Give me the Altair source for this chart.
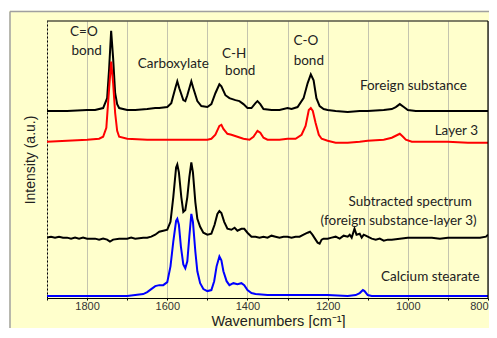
import altair as alt
import pandas as pd

# ---- data (wavenumber cm^-1, intensity a.u.) ----
fs_w = [1900,1850,1800,1780,1760,1750,1745,1740,1735,1730,1725,1720,1700,1680,1650,1630,1620,1600,1590,1580,1575,1570,1560,1555,1550,1540,1535,1525,1515,1500,1490,1480,1470,1465,1455,1445,1430,1420,1410,1400,1390,1380,1375,1368,1360,1340,1320,1300,1290,1275,1260,1250,1242,1235,1228,1220,1210,1200,1180,1150,1120,1100,1060,1040,1030,1020,1010,1000,980,900,850,800]
fs_i = [189,189,190,190,192,202,232,270,242,207,196,192,190,190,191,192,192,193,197,212,219,212,200,199,205,219,212,199,194,193,196,207,216,214,205,202,200,199,196,192,192,197,199,196,191,190,190,192,191,193,202,217,226,220,202,194,191,190,189,188,189,189,190,191,193,196,193,190,189,189,189,189]

l3_w = [1900,1850,1800,1770,1760,1752,1745,1740,1735,1730,1725,1720,1700,1650,1600,1550,1500,1490,1480,1470,1465,1460,1450,1440,1425,1410,1395,1385,1375,1368,1360,1350,1320,1300,1280,1265,1255,1247,1242,1237,1230,1222,1215,1200,1180,1150,1120,1100,1060,1040,1030,1020,1012,1005,990,950,900,850,800]
l3_i = [158,159,160,161,163,172,212,239,217,187,169,163,161,160,160,160,160,161,165,174,175,171,166,165,163,161,160,163,169,167,162,160,160,161,161,165,174,190,192,189,177,165,161,159,157,157,158,159,160,162,164,166,163,160,158,158,158,157,157]

sub_w = [1900,1890,1880,1870,1860,1850,1840,1830,1820,1810,1800,1790,1780,1770,1760,1750,1743,1735,1720,1700,1690,1680,1660,1650,1640,1630,1620,1610,1600,1592,1585,1578,1575,1571,1565,1560,1555,1550,1545,1540,1536,1530,1525,1518,1510,1500,1490,1482,1475,1470,1465,1458,1450,1440,1432,1425,1415,1408,1400,1390,1380,1370,1360,1350,1340,1330,1320,1310,1300,1290,1280,1270,1260,1250,1244,1238,1230,1225,1220,1215,1210,1200,1190,1180,1170,1160,1150,1145,1140,1133,1128,1120,1115,1110,1105,1100,1090,1080,1070,1060,1050,1040,1020,1000,980,960,940,920,900,880,860,840,820,805,800]
sub_i = [61,62,61,62,61,61,60,61,60,61,60,60,60,59,60,59,57,59,60,60,61,60,61,61,62,64,67,68,69,77,102,132,135,127,102,87,89,102,122,137,127,97,80,72,66,64,65,74,85,88,86,77,70,69,71,68,70,70,66,62,62,61,62,61,63,62,61,62,62,61,62,62,64,66,67,64,59,56,55,59,60,60,61,62,60,63,62,64,61,70,64,65,61,64,63,62,60,59,60,58,59,59,60,61,61,61,61,60,61,61,61,61,61,62,64]

cs_w = [1900,1800,1700,1680,1660,1650,1640,1630,1620,1610,1600,1592,1585,1578,1575,1571,1566,1560,1555,1550,1545,1540,1536,1530,1525,1518,1510,1500,1490,1483,1477,1470,1465,1460,1452,1445,1435,1425,1415,1408,1400,1390,1380,1350,1300,1250,1200,1150,1130,1120,1112,1108,1100,1090,1000,900,850,800]
cs_i = [2,2,2,3,4,6,9,12,13,13,16,32,57,78,80,74,52,34,30,37,62,85,77,47,27,15,9,7,8,17,32,42,38,27,17,13,15,14,15,13,8,5,4,3,3,3,3,2,3,5,8,7,3,2,2,2,2,2]

series_names = ["Foreign substance", "Layer 3", "Subtracted", "Calcium stearate"]
series_colors = ["#000000", "#FF0000", "#000000", "#0000FF"]

x_ticks = [1900, 1800, 1700, 1600, 1500, 1400, 1300, 1200, 1100, 1000, 900, 800]

ann_text = ["C=O", "bond", "Carboxylate", "C-H", "bond", "C-O", "bond",
            "Foreign substance", "Subtracted spectrum",
            "(foreign substance-layer 3)", "Calcium stearate"]
ann_w = [1808, 1801, 1585, 1433, 1418, 1254, 1247, 986, 994, 1023, 944]
ann_i = [269, 250, 237, 247, 229, 260, 240, 214, 97, 78, 21]

annr_text = ["Layer 3"]
annr_w = [825]
annr_i = [169]

# ---- build tables ----
frames = []
for name, w, i in zip(series_names, [fs_w, l3_w, sub_w, cs_w], [fs_i, l3_i, sub_i, cs_i]):
    frames.append(pd.DataFrame({"wn": w, "inten": i, "series": name}))
spec = pd.concat(frames, ignore_index=True)
ann = pd.DataFrame({"text": ann_text, "wn": ann_w, "inten": ann_i})
annr = pd.DataFrame({"text": annr_text, "wn": annr_w, "inten": annr_i})

W, H = 441, 277
FONT = "Lato"

xscale = alt.Scale(domain=[800, 1900], reverse=True, nice=False, zero=False)
yscale = alt.Scale(domain=[0, 280], nice=False, zero=False)

lines = alt.Chart(spec).mark_line(strokeWidth=2, clip=True).encode(
    x=alt.X("wn:Q", scale=xscale,
            axis=alt.Axis(values=x_ticks, title="Wavenumbers [cm⁻¹]",
                          labelExpr="datum.value % 200 == 0 ? datum.value : ''",
                          grid=True, gridColor="#C4C4AE", gridWidth=1,
                          domainColor="#000000", domainWidth=1.2,
                          tickColor="#000000", tickSize=2,
                          labelFont="Liberation Sans", labelFontSize=11, labelColor="#333333",
                          labelPadding=0,
                          titleFont="Liberation Sans", titleFontSize=14.5, titleFontWeight="normal",
                          titleColor="#222222", titlePadding=3, titleX=231)),
    y=alt.Y("inten:Q", scale=yscale,
            axis=alt.Axis(title="Intensity (a.u.)", labels=False, ticks=False, grid=False,
                          domainColor="#000000", domainDash=[2, 2], domainWidth=1,
                          titleFont="Liberation Sans", titleFontSize=14, titleFontWeight="normal",
                          titleColor="#222222", titlePadding=10)),
    color=alt.Color("series:N", scale=alt.Scale(domain=series_names, range=series_colors), legend=None),
    detail="series:N",
    order="wn:Q",
)

labels = alt.Chart(ann).mark_text(font=FONT, fontSize=13.5, color="#222222",
                                  baseline="middle", align="center").encode(
    x=alt.X("wn:Q", scale=xscale),
    y=alt.Y("inten:Q", scale=yscale),
    text="text:N",
)
labels_r = alt.Chart(annr).mark_text(font=FONT, fontSize=13.5, color="#222222",
                                     baseline="middle", align="right").encode(
    x=alt.X("wn:Q", scale=xscale),
    y=alt.Y("inten:Q", scale=yscale),
    text="text:N",
)

top_border = alt.Chart(annr).mark_rule(color="#000000", strokeWidth=1.2).encode(
    x=alt.value(0), x2=alt.value(W), y=alt.value(0))
right_border = alt.Chart(annr).mark_rule(color="#000000", strokeWidth=1.2).encode(
    x=alt.value(W), y=alt.value(0), y2=alt.value(H))
panel_left = alt.Chart(annr).mark_rule(color="#A0A0A0", strokeWidth=1.5).encode(
    x=alt.value(-37), y=alt.value(-9.5), y2=alt.value(320))
panel_top = alt.Chart(annr).mark_rule(color="#A0A0A0", strokeWidth=1.5).encode(
    x=alt.value(-37), x2=alt.value(460), y=alt.value(-9.5))
white_left = alt.Chart(annr).mark_rect(color="#FFFFFF").encode(
    x=alt.value(-40), x2=alt.value(-37.7), y=alt.value(-15), y2=alt.value(320))
white_top = alt.Chart(annr).mark_rect(color="#FFFFFF").encode(
    x=alt.value(-40), x2=alt.value(460), y=alt.value(-15), y2=alt.value(-10.2))

chart = alt.layer(white_left, white_top, panel_left, panel_top, lines, labels, labels_r,
                  top_border, right_border).properties(
    width=W, height=H,
    background="#FFFFCC",
    padding={"left": 39, "top": 13, "right": 1, "bottom": 30},
    autosize=alt.AutoSizeParams(type="none"),
).configure_view(stroke=None)

chart.save("out.html", embed_options={"renderer": "svg", "actions": False})
